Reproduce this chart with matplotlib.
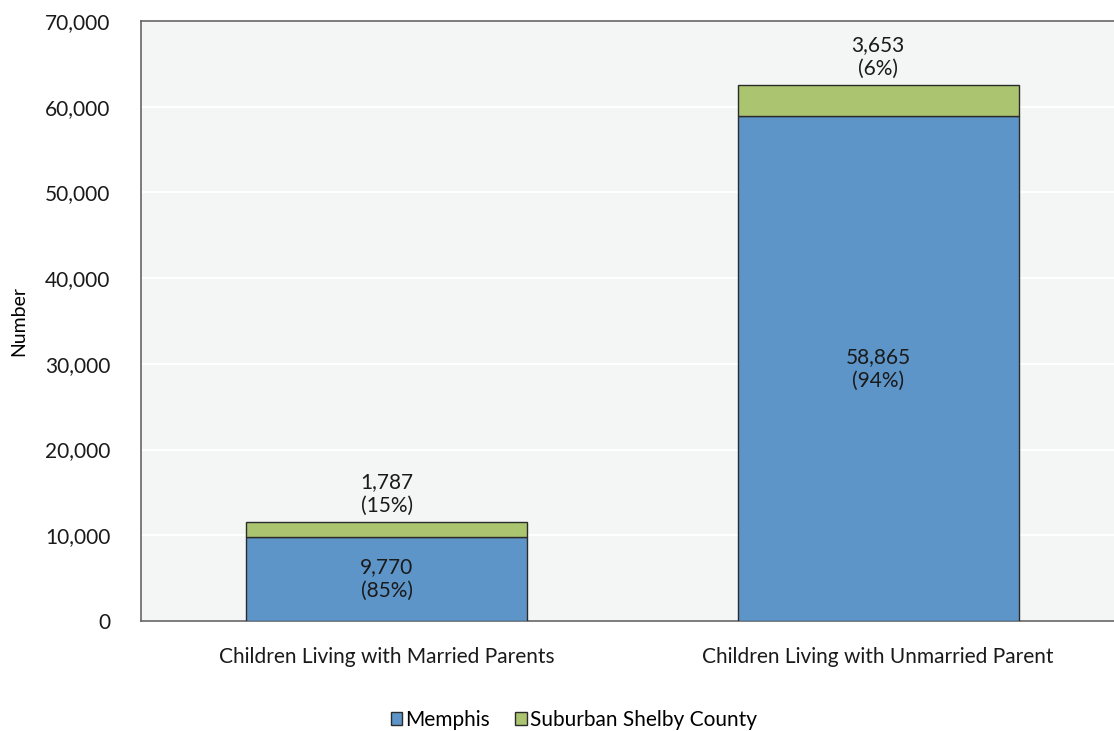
import matplotlib.pyplot as plt
import numpy as np

categories = ['Children Living with Married Parents', 'Children Living with Unmarried Parent']
memphis = [9770, 58865]
suburban = [1787, 3653]
memphis_pct = [85, 94]
suburban_pct = [15, 6]
series_names = ['Memphis', 'Suburban Shelby County']

plt.rcParams['font.family'] = ['Lato', 'DejaVu Sans']
plt.rcParams['font.size'] = 15

blue = '#5e95c9'
green = '#aac46f'
edge = '#2b2b2b'

fig = plt.figure(figsize=(11.14, 7.31), dpi=100)
ax = fig.add_axes([0.1266, 0.1505, 0.8734, 0.8208])
ax.set_facecolor('#f4f5f5')

x = np.arange(len(categories))
w = 0.572
b1 = ax.bar(x, memphis, w, color=blue, edgecolor=edge, linewidth=1, label=series_names[0], zorder=3)
b2 = ax.bar(x, suburban, w, bottom=memphis, color=green, edgecolor=edge, linewidth=1,
            label=series_names[1], zorder=3)

for i in range(len(categories)):
    ax.text(x[i], memphis[i] / 2, f'{memphis[i]:,}\n({memphis_pct[i]}%)', ha='center', va='center',
            fontsize=15, color='#1a1a1a', zorder=4, linespacing=1.25)
    ax.text(x[i], memphis[i] + suburban[i] + 700, f'{suburban[i]:,}\n({suburban_pct[i]}%)', ha='center',
            va='bottom', fontsize=15, color='#1a1a1a', zorder=4, linespacing=1.25)

ax.set_xlim(-0.5, 1.48)
ax.set_ylim(0, 70000)
ax.set_yticks(np.arange(0, 70001, 10000))
ax.set_yticklabels([f'{v:,}' for v in range(0, 70001, 10000)])
ax.set_xticks(x)
ax.set_xticklabels(categories)
ax.tick_params(axis='both', length=0, labelsize=15, colors='#1a1a1a')
ax.tick_params(axis='x', pad=19)
ax.tick_params(axis='y', pad=22)
ax.grid(axis='y', color='white', linewidth=1.5, zorder=0)
ax.set_axisbelow(True)

for s in ['left', 'top', 'bottom']:
    ax.spines[s].set_color('#666666')
    ax.spines[s].set_linewidth(1.2)
ax.spines['right'].set_visible(False)

ax.set_ylabel('Number', fontsize=14)
ax.yaxis.set_label_coords(-0.117, 0.5)

fig.legend(handles=[b1, b2], labels=series_names, loc='center', bbox_to_anchor=(0.515, 0.015),
           ncol=2, frameon=False, fontsize=15, handlelength=0.55, handleheight=0.55,
           handletextpad=0.15, columnspacing=1.2)

plt.savefig('out.png', dpi=100)
